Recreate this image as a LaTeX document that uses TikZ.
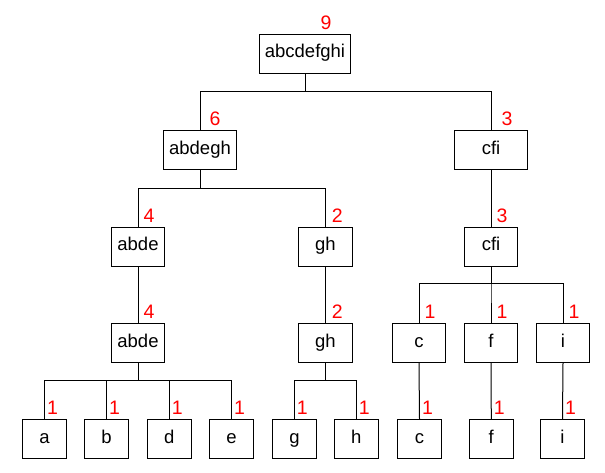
\documentclass[tikz,border=0pt]{standalone}
\usepackage{fontspec}
\setmainfont{Liberation Sans}
\begin{document}
\begin{tikzpicture}[x=1pt,y=-1pt,line width=1pt,
	box/.style={draw,inner sep=0pt,minimum height=39pt,text height=13pt,text depth=5pt,font=\fontsize{18.5}{20}\selectfont},
	num/.style={red,anchor=base west,inner sep=0pt,yshift=4.5pt,font=\fontsize{19.5}{20}\selectfont}]
				\useasboundingbox (0,0) rectangle (605,472);
				% level 0 and 1
				\node[box,minimum width=91pt] (root) at (305,53.5) {abcdefghi};
				\node[box,minimum width=73pt] (abdegh) at (200,150) {abdegh};
				\node[box,minimum width=73pt] (cfi) at (491,150) {cfi};
				% level 2
				\node[box,minimum width=53pt] (abde) at (138,246.5) {abde};
				\node[box,minimum width=54pt] (gh) at (325.3,246.5) {gh};
				\node[box,minimum width=53pt] (cfi2) at (491,246.5) {cfi};
				% level 3
				\node[box,minimum width=53pt] (abde2) at (138,343) {abde};
				\node[box,minimum width=54pt] (gh2) at (325.3,343) {gh};
				\node[box,minimum width=53pt] (c) at (419,343) {c};
				\node[box,minimum width=53pt] (f) at (491,343) {f};
				\node[box,minimum width=53pt] (i) at (563,343) {i};
				% leaves
				\node[box,minimum width=44pt] (la) at (44.5,439) {a};
				\node[box,minimum width=44pt] (lb) at (106.5,439) {b};
				\node[box,minimum width=44pt] (ld) at (169.3,439) {d};
				\node[box,minimum width=44pt] (le) at (231.5,439) {e};
				\node[box,minimum width=44pt] (lg) at (294.4,439) {g};
				\node[box,minimum width=44pt] (lh) at (356.3,439) {h};
				\node[box,minimum width=44pt] (lc) at (419.5,439) {c};
				\node[box,minimum width=44pt] (lf) at (491.3,439) {f};
				\node[box,minimum width=44pt] (li) at (562.5,439) {i};
				% edges
				\draw (root.south) -- ++(0,18) -| (abdegh.north);
				\draw (root.south) -- ++(0,18) -| (cfi.north);
				\draw (abdegh.south) -- ++(0,18) -| (abde.north);
				\draw (abdegh.south) -- ++(0,18) -| (gh.north);
				\draw (cfi.south) -- (cfi2.north);
				\draw (abde.south) -- (abde2.north);
				\draw (gh.south) -- (gh2.north);
				\draw (cfi2.south) -- ++(0,17) -| (c.north);
				\draw (cfi2.south) -- ++(0,17) -| (f.north);
				\draw (cfi2.south) -- ++(0,17) -| (i.north);
				\draw (abde2.south) -- ++(0,17) -| (la.north);
				\draw (abde2.south) -- ++(0,17) -| (lb.north);
				\draw (abde2.south) -- ++(0,17) -| (ld.north);
				\draw (abde2.south) -- ++(0,17) -| (le.north);
				\draw (gh2.south) -- ++(0,17) -| (lg.north);
				\draw (gh2.south) -- ++(0,17) -| (lh.north);
				\draw (c.south) -- (lc.north);
				\draw (f.south) -- (lf.north);
				\draw (i.south) -- (li.north);
				% counts
				\node[num] (n-root) at ([xshift=15pt]root.north) {9};
				\node[num] (n-abdegh) at ([xshift=9pt]abdegh.north) {6};
				\node[num] (n-cfi) at ([xshift=10pt]cfi.north) {3};
				\node[num] (n-abde) at ([xshift=5pt]abde.north) {4};
				\node[num] (n-gh) at ([xshift=6pt]gh.north) {2};
				\node[num] (n-cfi2) at ([xshift=5pt]cfi2.north) {3};
				\node[num] (n-abde2) at ([xshift=5pt]abde2.north) {4};
				\node[num] (n-gh2) at ([xshift=6pt]gh2.north) {2};
				\node[num] (n-c) at ([xshift=5pt]c.north) {1};
				\node[num] (n-f) at ([xshift=5pt]f.north) {1};
				\node[num] (n-i) at ([xshift=5pt]i.north) {1};
				\node[num] (n-la) at ([xshift=2pt]la.north) {1};
				\node[num] (n-lb) at ([xshift=2pt]lb.north) {1};
				\node[num] (n-ld) at ([xshift=2pt]ld.north) {1};
				\node[num] (n-le) at ([xshift=2pt]le.north) {1};
				\node[num] (n-lg) at ([xshift=2pt]lg.north) {1};
				\node[num] (n-lh) at ([xshift=2pt]lh.north) {1};
				\node[num] (n-lc) at ([xshift=2pt]lc.north) {1};
				\node[num] (n-lf) at ([xshift=2pt]lf.north) {1};
				\node[num] (n-li) at ([xshift=2pt]li.north) {1};
			\end{tikzpicture}
\end{document}
